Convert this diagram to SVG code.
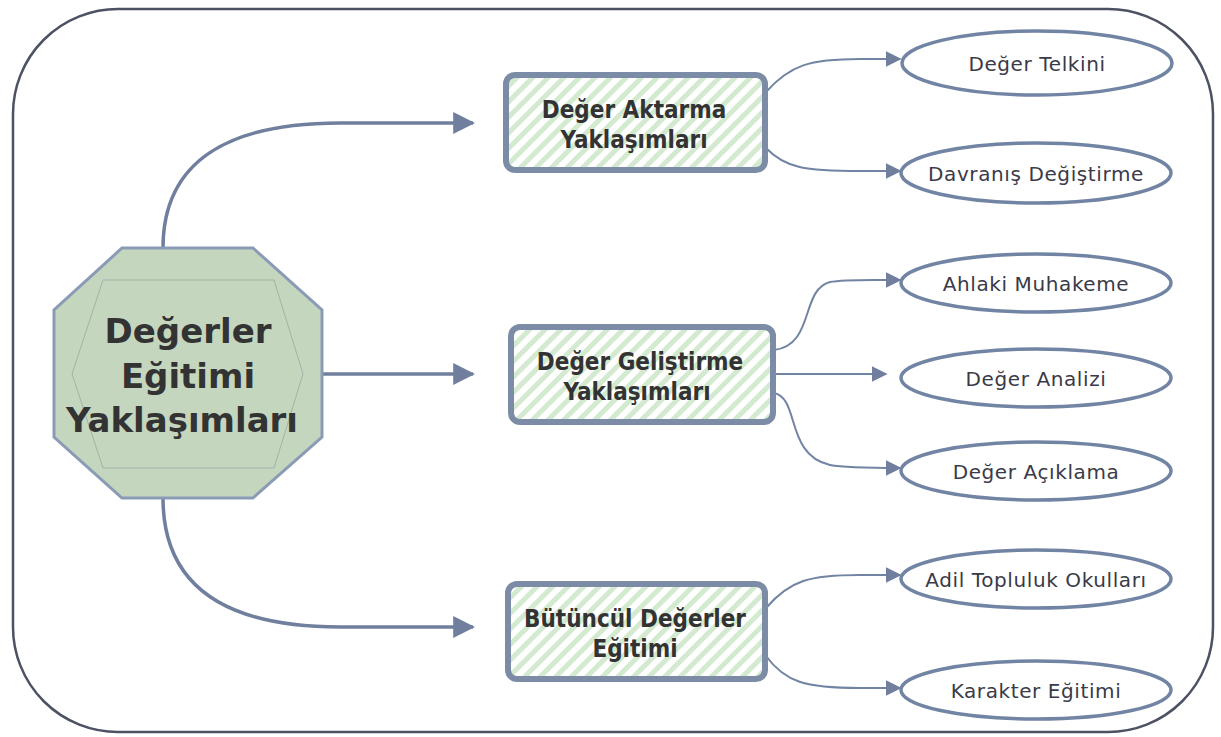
<svg xmlns="http://www.w3.org/2000/svg" width="1221" height="737" viewBox="0 0 1221 737">
<defs>
<pattern id="hatch" patternUnits="userSpaceOnUse" width="11" height="11" patternTransform="rotate(45)">
<rect width="11" height="11" fill="#ffffff"/>
<rect x="0" y="0" width="5" height="11" fill="#d3ead0"/>
</pattern>
<marker id="arrL" viewBox="0 0 10 10" refX="9" refY="5" markerWidth="22" markerHeight="22" markerUnits="userSpaceOnUse" orient="auto">
<path d="M0,0 L10,5 L0,10 z" fill="#6f7f9d"/>
</marker>
<marker id="arrS" viewBox="0 0 10 10" refX="9" refY="5" markerWidth="16" markerHeight="16" markerUnits="userSpaceOnUse" orient="auto">
<path d="M0,0 L10,5 L0,10 z" fill="#6f7f9d"/>
</marker>
<style>
.frame{fill:#ffffff;stroke:#4c5163;stroke-width:2.5}
.box{fill:url(#hatch);stroke:#7d8ca6;stroke-width:6}
.boxt{font-family:"DejaVu Sans Condensed","DejaVu Sans",sans-serif;font-weight:bold;font-size:24px;fill:#333333;text-anchor:middle}
.ell{fill:#ffffff;stroke:#7284a3;stroke-width:3.5}
.ellt{font-family:"DejaVu Sans",sans-serif;font-size:20px;letter-spacing:0.6px;fill:#3a3a48;text-anchor:middle}
.main{fill:#c4d6be;stroke:#8a9bb5;stroke-width:3}
.inner{fill:none;stroke:#a4b2a6;stroke-width:1}
.maint{font-family:"DejaVu Sans",sans-serif;font-weight:bold;font-size:34px;fill:#333333;text-anchor:middle}
.c{fill:none;stroke:#6f7f9d;stroke-width:3.5}
.cs{fill:none;stroke:#7284a3;stroke-width:2}
</style>
</defs>
<rect class="frame" x="13" y="9" width="1200" height="723" rx="105" ry="105"/>
<g id="connectors">
<path class="c" d="M163,248 C163,160 230,123 340,123 L473,123" marker-end="url(#arrL)"/>
<path class="c" d="M322,374 L473,374" marker-end="url(#arrL)"/>
<path class="c" d="M163,498 C163,590 230,627 340,627 L473,627" marker-end="url(#arrL)"/>
<path class="cs" d="M766,92 C790,65 810,59 860,59 L900,59" marker-end="url(#arrS)"/>
<path class="cs" d="M766,148 C785,168 805,171 860,171 L900,171" marker-end="url(#arrS)"/>
<path class="cs" d="M774,350 C815,345 800,290 830,282 C845,279 870,280 900,280" marker-end="url(#arrS)"/>
<path class="cs" d="M774,374 L886,374" marker-end="url(#arrS)"/>
<path class="cs" d="M774,393 C800,398 785,455 830,465 C845,468 870,468 900,468" marker-end="url(#arrS)"/>
<path class="cs" d="M766,608 C790,580 810,575 860,575 L900,575" marker-end="url(#arrS)"/>
<path class="cs" d="M766,656 C785,682 805,688 860,688 L900,688" marker-end="url(#arrS)"/>
</g>
<g id="main">
<polygon class="main" points="122,248 253,248 322,310 322,437 253,498 122,498 54,437 54,310"/>
<polygon class="inner" points="103,280 274,280 303,374 274,468 103,468 72,374"/>
<text class="maint" x="188" y="343">Değerler</text>
<text class="maint" x="188" y="388">Eğitimi</text>
<text class="maint" x="182" y="432">Yaklaşımları</text>
</g>
<g id="b1">
<rect class="box" x="506" y="75" width="259" height="95" rx="9"/>
<text class="boxt" x="634" y="118">Değer Aktarma</text>
<text class="boxt" x="634" y="148">Yaklaşımları</text>
</g>
<g id="b2">
<rect class="box" x="511" y="327" width="262" height="95" rx="9"/>
<text class="boxt" x="640" y="370">Değer Geliştirme</text>
<text class="boxt" x="637" y="400">Yaklaşımları</text>
</g>
<g id="b3">
<rect class="box" x="508" y="584" width="257" height="95" rx="9"/>
<text class="boxt" x="635" y="627">Bütüncül Değerler</text>
<text class="boxt" x="635" y="657">Eğitimi</text>
</g>
<g id="e1"><ellipse class="ell" cx="1037" cy="63" rx="135" ry="32"/><text class="ellt" x="1037" y="71">Değer Telkini</text></g>
<g id="e2"><ellipse class="ell" cx="1036" cy="173" rx="135" ry="30"/><text class="ellt" x="1036" y="181">Davranış Değiştirme</text></g>
<g id="e3"><ellipse class="ell" cx="1036" cy="283" rx="135" ry="29"/><text class="ellt" x="1036" y="291">Ahlaki Muhakeme</text></g>
<g id="e4"><ellipse class="ell" cx="1036" cy="378" rx="135" ry="29"/><text class="ellt" x="1036" y="386">Değer Analizi</text></g>
<g id="e5"><ellipse class="ell" cx="1036" cy="471" rx="135" ry="29"/><text class="ellt" x="1036" y="479">Değer Açıklama</text></g>
<g id="e6"><ellipse class="ell" cx="1036" cy="579" rx="135" ry="29"/><text class="ellt" x="1036" y="587">Adil Topluluk Okulları</text></g>
<g id="e7"><ellipse class="ell" cx="1036" cy="690" rx="135" ry="29"/><text class="ellt" x="1036" y="698">Karakter Eğitimi</text></g>
</svg>
